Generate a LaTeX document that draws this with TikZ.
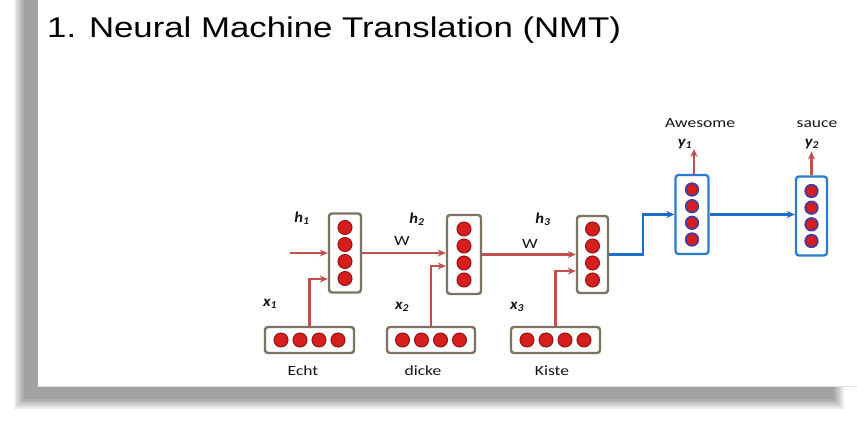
\documentclass[tikz,border=0pt]{standalone}
\usepackage{fontspec}
\setmainfont{Liberation Sans}
\newfontfamily\lblfont{Carlito}
\usetikzlibrary{arrows.meta,calc}

% colours
\definecolor{arrowred}{RGB}{192,80,77}
\definecolor{dotred}{RGB}{214,30,30}
\definecolor{dotrim}{RGB}{150,20,20}
\definecolor{boxbrown}{RGB}{122,114,98}
\definecolor{boxblue}{RGB}{44,122,204}
\definecolor{lineblue}{RGB}{30,110,200}
\definecolor{dotblue}{RGB}{70,60,160}
\definecolor{inkgray}{RGB}{20,20,20}

% wide lettering
\newcommand{\widetxt}[2][1.25]{\scalebox{#1}[1]{#2}}

\tikzset{
  encbox/.style={draw=boxbrown, line width=2.4pt, fill=white, rounded corners=3pt,
                 minimum width=32pt, minimum height=79pt, inner sep=0pt},
  decbox/.style={draw=boxblue, line width=2.2pt, fill=white, rounded corners=3pt,
                 minimum width=33pt, minimum height=79pt, inner sep=0pt},
  inbox/.style={draw=boxbrown, line width=2.4pt, fill=white, rounded corners=3pt,
                minimum width=88pt, minimum height=26pt, inner sep=0pt},
  encdot/.style={circle, fill=dotred, draw=dotrim, line width=1pt,
                 minimum size=14pt, inner sep=0pt},
  decdot/.style={circle, fill=dotred, draw=dotblue, line width=1.8pt,
                 minimum size=12.5pt, inner sep=0pt},
  redarrow/.style={draw=arrowred, line width=2.2pt,
                   -{Stealth[length=8pt,width=7pt]}},
  bluearrow/.style={draw=lineblue, line width=2.2pt,
                    -{Stealth[length=8pt,width=7pt]}},
  word/.style={anchor=base, inner sep=0pt, text=inkgray,
               font=\lblfont\fontsize{14}{16}\selectfont},
  var/.style={anchor=base, inner sep=0pt, text=inkgray,
              font=\lblfont\bfseries\itshape\fontsize{15}{17}\selectfont},
}

\begin{document}
\begin{tikzpicture}[x=1pt, y=-1pt]
\useasboundingbox (0,0) rectangle (857,421);
\begin{scope}
\clip (0,0) rectangle (857,421);
\fill[white] (0,0) rectangle (857,421);
% soft drop shadow behind the slide
\foreach \d in {0,2,4,6,8,10}
  \fill[black, opacity=0.07] (24-\d,-20) rectangle (834+\d,399+\d);
% slide
\fill[white] (38,-20) rectangle (870,386);
\draw[black!12, line width=0.8pt] (38,386) -- (870,386);
\end{scope}

% title
\node[anchor=base west, inner sep=0pt, font=\fontsize{28.5}{30}\selectfont]
  (title) at (47,37) {\widetxt[1.22]{1. Neural Machine Translation (NMT)}};

% encoder hidden states
\node[encbox] (e1) at (345,253) {};
\node[encbox, minimum width=34pt] (e2) at (464,254.5) {};
\node[encbox, minimum width=31pt, minimum height=77pt] (e3) at (592.5,254.5) {};
\foreach \b in {e1,e2,e3}
  \foreach \k/\o in {1/-25.5,2/-8.5,3/8.5,4/25.5}
    \node[encdot] (\b d\k) at ($(\b.center)+(0,\o)$) {};

% decoder hidden states
\node[decbox] (d1) at (692,214.5) {};
\node[decbox, minimum width=31pt] (d2) at (811.5,216) {};
\foreach \b in {d1,d2}
  \foreach \k/\o in {1/-25,2/-8.3,3/8.3,4/25}
    \node[decdot] (\b d\k) at ($(\b.center)+(0,\o)$) {};

% input word vectors
\node[inbox, minimum width=89pt] (i1) at (309.5,340) {};
\node[inbox] (i2) at (431,340) {};
\node[inbox, minimum width=89pt] (i3) at (555.5,340) {};
\foreach \b in {i1,i2,i3}
  \foreach \k/\o in {1/-28.5,2/-9.5,3/9.5,4/28.5}
    \node[encdot] (\b d\k) at ($(\b.center)+(\o,0)$) {};

% recurrent connections
\coordinate (h0) at (290,253);
\draw[redarrow] (h0) -- (e1.west);
\draw[redarrow] (e1.east) -- (e1.east -| e2.west);
\draw[redarrow] (e2.east) -- (e2.east -| e3.west);

% inputs into the encoder
\draw[redarrow] (i1.north) |- ($(e1.west)+(0,26)$);
\draw[redarrow] (i2.north) |- ($(e2.west)+(0,11.5)$);
\draw[redarrow] (i3.north) |- ($(e3.west)+(0,16.5)$);

% encoder to decoder
\draw[bluearrow] (e3.east) -- ++(34,0) |- (d1.west);
\draw[bluearrow] (d1.east) -- (d1.east -| d2.west);

% outputs
\draw[redarrow] ($(d1.north)+(2,0)$) -- ++(0,-25);
\draw[redarrow] (d2.north) -- ++(0,-24);

% labels
\node[var] (lh1) at (302,222) {\widetxt[1.1]{h\textsubscript{1}}};
\node[var] (lh2) at (417,223) {\widetxt[1.1]{h\textsubscript{2}}};
\node[var] (lh3) at (543,223) {\widetxt[1.1]{h\textsubscript{3}}};
\node[word] (w1) at (402,245) {\widetxt{W}};
\node[word] (w2) at (530,248) {\widetxt{W}};
\node[var] (lx1) at (270,306) {\widetxt[1.1]{x\textsubscript{1}}};
\node[var] (lx2) at (402,309) {\widetxt[1.1]{x\textsubscript{2}}};
\node[var] (lx3) at (517,309) {\widetxt[1.1]{x\textsubscript{3}}};
\node[var] (ly1) at (685,146) {\widetxt[1.1]{y\textsubscript{1}}};
\node[var] (ly2) at (812,146) {\widetxt[1.1]{y\textsubscript{2}}};
\node[word] (aw) at (700,127) {\widetxt{Awesome}};
\node[word] (sa) at (817,127) {\widetxt{sauce}};
\node[word] (echt) at (303,375) {\widetxt{Echt}};
\node[word] (dicke) at (423,375) {\widetxt{dicke}};
\node[word] (kiste) at (552,375) {\widetxt{Kiste}};
\end{tikzpicture}
\end{document}
